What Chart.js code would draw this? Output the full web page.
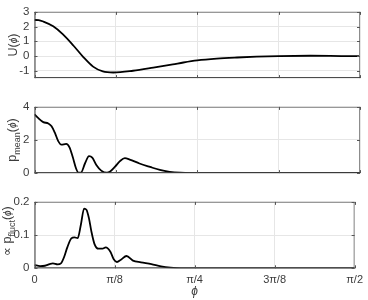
<!DOCTYPE html>
<html>
<head>
<meta charset="utf-8">
<script src="https://cdn.jsdelivr.net/npm/chart.js@4"></script>
<style>
  body { margin: 0; background: #fff; width: 368px; height: 300px; position: relative; overflow: hidden; }
  canvas { position: absolute; left: 0; }
</style>
</head>
<body>
<canvas id="c1" width="368" height="90" style="top:0"></canvas>
<canvas id="c2" width="368" height="90" style="top:95px"></canvas>
<canvas id="c3" width="368" height="110" style="top:190px"></canvas>
<script>
// x values are in units of pi/8 (0 .. 4 = pi/2)
const xTicks = [0, 1, 2, 3, 4];
const xTickLabels = ['0', 'π/8', 'π/4', '3π/8', 'π/2'];

const uX = [0, 0.05, 0.11, 0.23, 0.35, 0.48, 0.60, 0.72, 0.84, 0.97, 1.21, 1.46, 1.70, 1.83, 2.0, 2.24, 2.49, 2.73, 3.0, 3.39, 3.77, 4.0];
const uY = [2.45, 2.44, 2.34, 2.02, 1.47, 0.70, -0.07, -0.72, -1.05, -1.12, -1.0, -0.79, -0.57, -0.44, -0.30, -0.18, -0.10, -0.04, 0.0, 0.02, 0.0, -0.01];
const uTicks = [-1, 0, 1, 2, 3];

const pmX = [0, 0.047, 0.108, 0.17, 0.21, 0.25, 0.29, 0.33, 0.39, 0.43, 0.47, 0.51, 0.54, 0.57, 0.62, 0.67, 0.71, 0.76, 0.82, 0.89, 0.93, 0.99, 1.05, 1.11, 1.17, 1.29, 1.42, 1.54, 1.66, 1.79, 1.91, 2.1, 3, 4];
const pmY = [3.55, 3.32, 3.08, 3.0, 2.83, 2.44, 1.95, 1.72, 1.76, 1.56, 0.97, 0.29, 0.03, 0.03, 0.58, 1.03, 0.94, 0.49, 0.15, 0.02, 0.1, 0.39, 0.72, 0.9, 0.82, 0.58, 0.37, 0.19, 0.08, 0.02, 0.0, 0, 0, 0];
const pmTicks = [0, 2, 4];

const pfX = [0, 0.07, 0.13, 0.19, 0.23, 0.29, 0.33, 0.37, 0.41, 0.46, 0.50, 0.54, 0.58, 0.62, 0.65, 0.68, 0.71, 0.75, 0.80, 0.85, 0.89, 0.95, 0.99, 1.03, 1.08, 1.15, 1.23, 1.33, 1.46, 1.58, 1.70, 1.83, 2.2, 3, 4];
const pfY = [0.0097, 0.0067, 0.0077, 0.0126, 0.0146, 0.0117, 0.0146, 0.034, 0.063, 0.09, 0.093, 0.091, 0.132, 0.18, 0.176, 0.151, 0.112, 0.073, 0.059, 0.059, 0.063, 0.049, 0.027, 0.019, 0.026, 0.037, 0.023, 0.018, 0.0126, 0.006, 0.002, 0, 0, 0, 0];
const pfTicks = [0, 0.1, 0.2];

const FONT = '"Liberation Sans", "DejaVu Sans", sans-serif';
const TXT = '#3c3c3c';

// box, inward tick marks, y label with subscript, x label
const boxPlugin = {
  id: 'box',
  afterDraw(chart, args, opts) {
    const { ctx, chartArea: a, scales } = chart;
    ctx.save();
    ctx.lineWidth = 1;
    // top / right border
    ctx.strokeStyle = '#8c8c8c';
    ctx.beginPath();
    ctx.moveTo(a.left, a.top + 0.5); ctx.lineTo(a.right, a.top + 0.5);
    ctx.moveTo(a.right - 0.5, a.top); ctx.lineTo(a.right - 0.5, a.bottom);
    ctx.stroke();
    // left / bottom axis
    ctx.strokeStyle = '#3a3a3a';
    ctx.beginPath();
    ctx.moveTo(a.left + 0.5, a.top); ctx.lineTo(a.left + 0.5, a.bottom);
    ctx.moveTo(a.left, a.bottom - 0.5); ctx.lineTo(a.right, a.bottom - 0.5);
    ctx.stroke();
    // tick marks
    ctx.strokeStyle = '#555';
    ctx.beginPath();
    scales.x.ticks.forEach((t, i) => {
      const x = Math.round(scales.x.getPixelForTick(i)) + 0.5;
      ctx.moveTo(x, a.bottom); ctx.lineTo(x, a.bottom - 3);
      ctx.moveTo(x, a.top); ctx.lineTo(x, a.top + 3);
    });
    scales.y.ticks.forEach((t, i) => {
      const y = Math.round(scales.y.getPixelForTick(i)) + 0.5;
      ctx.moveTo(a.left, y); ctx.lineTo(a.left + 3, y);
      ctx.moveTo(a.right, y); ctx.lineTo(a.right - 3, y);
    });
    ctx.stroke();

    // y label
    const parts = opts.label || [];
    ctx.fillStyle = TXT;
    ctx.textBaseline = 'alphabetic';
    let total = 0;
    parts.forEach(p => {
      ctx.font = (p.it ? 'italic ' : '') + p.s + 'px ' + FONT;
      p.w = ctx.measureText(p.t).width;
      total += p.w;
    });
    ctx.translate(opts.labelX, (a.top + a.bottom) / 2 + (opts.labelShift || 0));
    ctx.rotate(-Math.PI / 2);
    let x = -total / 2;
    parts.forEach(p => {
      ctx.font = (p.it ? 'italic ' : '') + p.s + 'px ' + FONT;
      ctx.fillText(p.t, x, p.dy || 0);
      x += p.w;
    });
    ctx.restore();

    if (opts.xLabel) {
      ctx.save();
      ctx.fillStyle = TXT;
      ctx.font = 'italic 12px ' + FONT;
      ctx.textAlign = 'center';
      ctx.textBaseline = 'middle';
      ctx.fillText(opts.xLabel, (a.left + a.right) / 2, opts.xLabelY);
      ctx.restore();
    }
  }
};

function makePanel(id, xs, ys, yMin, yMax, yTicks, showX, label, labelX, labelShift) {
  const canvas = document.getElementById(id);
  const h = canvas.height;
  const xHeight = showX ? h - 78.3 : 11.7;
  return new Chart(canvas.getContext('2d'), {
    type: 'line',
    data: {
      datasets: [{
        data: xs.map((x, i) => ({ x: x, y: ys[i] })),
        borderColor: '#000',
        borderWidth: 1.8,
        pointRadius: 0,
        fill: false,
        cubicInterpolationMode: 'monotone'
      }]
    },
    plugins: [boxPlugin],
    options: {
      responsive: false,
      animation: false,
      layout: { padding: { top: 10, right: 8, left: 0, bottom: 0 } },
      plugins: {
        legend: { display: false },
        tooltip: { enabled: false },
        box: { label: label, labelX: labelX, labelShift: labelShift, xLabel: showX ? 'ϕ' : null, xLabelY: 102 }
      },
      scales: {
        x: {
          type: 'linear',
          min: 0,
          max: 4,
          afterBuildTicks: s => { s.ticks = xTicks.map(v => ({ value: v })); },
          afterFit: s => { s.height = xHeight; },
          grid: { color: '#e6e6e6', drawTicks: false },
          border: { display: false },
          ticks: {
            display: showX,
            padding: 5,
            color: TXT,
            font: { family: FONT, size: 11 },
            maxRotation: 0,
            callback: (v, i) => xTickLabels[i]
          }
        },
        y: {
          min: yMin,
          max: yMax,
          afterBuildTicks: s => { s.ticks = yTicks.map(v => ({ value: v })); },
          afterFit: s => { s.width = 34.5; },
          grid: { color: '#e6e6e6', drawTicks: false },
          border: { display: false },
          ticks: {
            padding: 5,
            color: TXT,
            font: { family: FONT, size: 11.5 },
            callback: v => String(v)
          }
        }
      }
    }
  });
}

makePanel('c1', uX, uY, -1.5, 3, uTicks, false, [
  { t: 'U(', s: 12.5 }, { t: 'ϕ', s: 10, it: true }, { t: ')', s: 12.5 }
], 17, 0);

makePanel('c2', pmX, pmY, 0, 4, pmTicks, false, [
  { t: 'p', s: 12.5 }, { t: 'mean', s: 9, dy: 3.5 }, { t: '(', s: 12.5 }, { t: 'ϕ', s: 10, it: true }, { t: ')', s: 12.5 }
], 16, 0);

makePanel('c3', pfX, pfY, 0, 0.2, pfTicks, true, [
  { t: '∝ ', s: 12.5 }, { t: 'p', s: 12.5 }, { t: 'fluct', s: 9, dy: 3.5 }, { t: '(', s: 12.5 }, { t: 'ϕ', s: 10, it: true }, { t: ')', s: 12.5 }
], 11, -4);
</script>
</body>
</html>
